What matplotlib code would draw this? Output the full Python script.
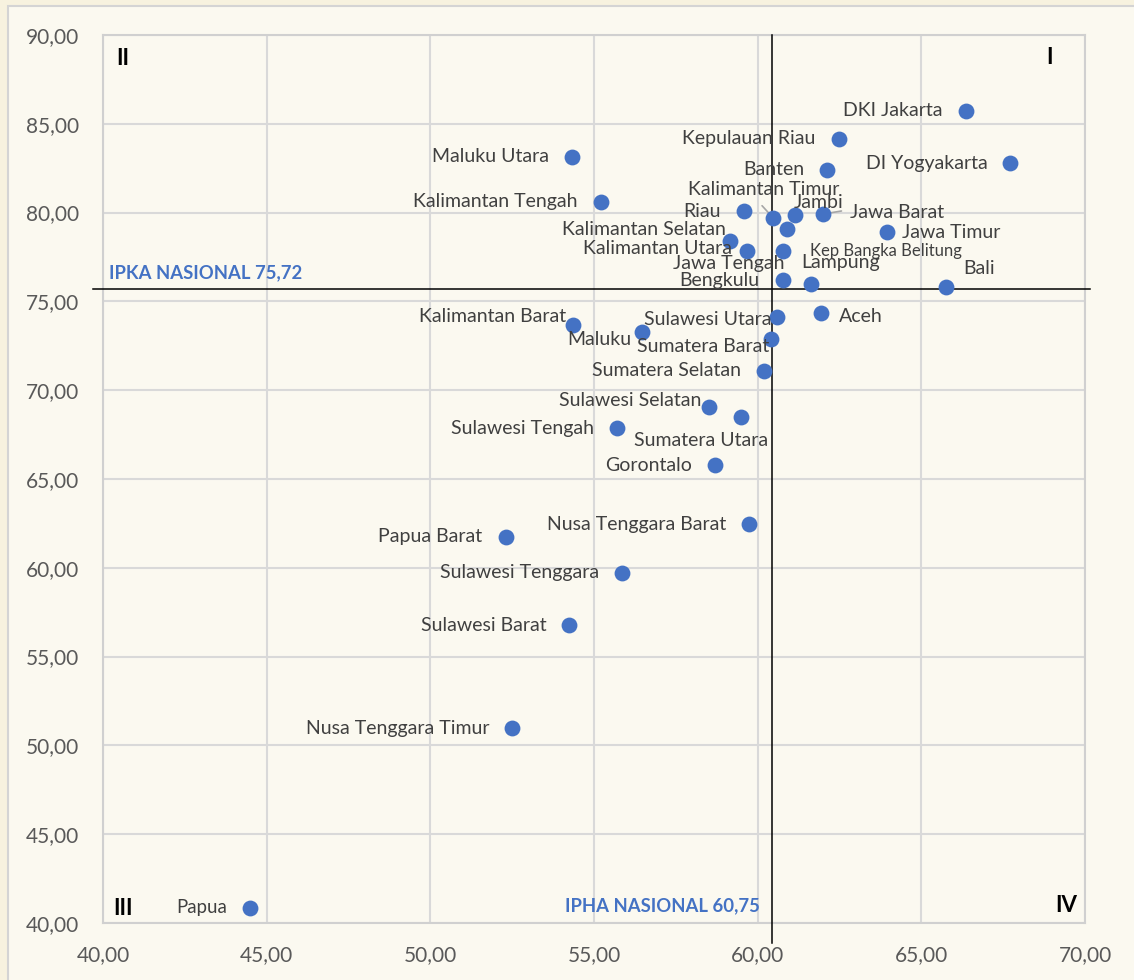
import matplotlib.pyplot as plt
import matplotlib.patches as patches
from matplotlib.ticker import FuncFormatter

plt.rcParams['font.family'] = ['Lato', 'DejaVu Sans']

# data (IPHA on x, IPKA on y)
provinces = ['DKI Jakarta', 'Kepulauan Riau', 'Banten', 'DI Yogyakarta', 'Kalimantan Timur',
             'Jambi', 'Jawa Barat', 'Riau', 'Jawa Tengah', 'Kalimantan Selatan',
             'Kalimantan Utara', 'Kep Bangka Belitung', 'Jawa Timur', 'Bengkulu', 'Lampung',
             'Bali', 'Maluku Utara', 'Kalimantan Tengah', 'Kalimantan Barat', 'Maluku',
             'Sulawesi Utara', 'Aceh', 'Sumatera Barat', 'Sumatera Selatan', 'Sulawesi Selatan',
             'Sumatera Utara', 'Sulawesi Tengah', 'Gorontalo', 'Nusa Tenggara Barat',
             'Papua Barat', 'Sulawesi Tenggara', 'Sulawesi Barat', 'Nusa Tenggara Timur', 'Papua']
ipha = [66.36, 62.48, 62.12, 67.72, 60.47,
        61.13, 62.01, 59.59, 60.89, 59.16,
        59.67, 60.77, 63.95, 60.77, 61.64,
        65.76, 54.34, 55.21, 54.36, 56.48,
        60.59, 61.93, 60.41, 60.19, 58.52,
        59.50, 55.69, 58.69, 59.74,
        52.30, 55.85, 54.25, 52.51, 44.50]
ipka = [85.74, 84.16, 82.40, 82.78, 79.71,
        79.85, 79.92, 80.07, 79.06, 78.42,
        77.86, 77.86, 78.91, 76.20, 75.96,
        75.79, 83.15, 80.61, 73.65, 73.26,
        74.10, 74.36, 72.87, 71.10, 69.07,
        68.49, 67.85, 65.77, 62.45,
        61.75, 59.72, 56.76, 50.96, 40.85]

ipka_nasional = 75.72
ipha_nasional = 60.75
ipha_line_x = 60.45  # where the vertical line is drawn in the original

# label placement (pixels): default is left of the dot
label_pos = {
    'Kalimantan Timur': (-9, 28, 'center'),
    'Jambi': (24, 13, 'center'),
    'Jawa Barat': (27, 2, 'left'),
    'Jawa Timur': (15, -1, 'left'),
    'Kalimantan Selatan': (-4, 11, 'right'),
    'Kalimantan Utara': (-15, 2, 'right'),
    'Kep Bangka Belitung': (27, 0, 'left'),
    'Jawa Tengah': (-2, -34, 'right'),
    'Lampung': (29, 22, 'center'),
    'Bali': (33, 19, 'center'),
    'Kalimantan Barat': (-7, 9, 'right'),
    'Maluku': (-11, -7, 'right'),
    'Sulawesi Utara': (-5, -2, 'right'),
    'Aceh': (18, -4, 'left'),
    'Sumatera Barat': (-2, -7, 'right'),
    'Sulawesi Selatan': (-8, 6, 'right'),
    'Sumatera Utara': (-40, -24, 'center'),
}
label_size = {'Kep Bangka Belitung': 12, 'Papua': 13.4}
leaders = {'Kalimantan Timur': (-11, 12), 'Jawa Barat': (18, 3)}

blue = '#4472C4'
fig = plt.figure(figsize=(11.34, 9.8), dpi=100, facecolor='#f7f2df')
ax = fig.add_axes([0.0908, 0.0582, 0.866, 0.9061])
ax.set_facecolor('#fbf9f0')

# outer chart frame
fig.patches.append(patches.Rectangle((8 / 1134, -0.05), 1.1, 1 - 6 / 980 + 0.05,
                                     transform=fig.transFigure, fill=True,
                                     facecolor='#fbf9f0', edgecolor='#d4d4d4',
                                     linewidth=1.5, zorder=-1))

ax.set_xlim(40, 70)
ax.set_ylim(40, 90)
ax.set_xticks(range(40, 71, 5))
ax.set_yticks(range(40, 91, 5))
fmt = FuncFormatter(lambda v, p: f'{v:.2f}'.replace('.', ','))
ax.xaxis.set_major_formatter(fmt)
ax.yaxis.set_major_formatter(fmt)
ax.tick_params(length=0, labelsize=15, labelcolor='#595959')
ax.tick_params(axis='y', pad=17)
ax.tick_params(axis='x', pad=16)
ax.grid(True, color='#d9d9d9', linewidth=1.5)
ax.set_axisbelow(True)
for s in ax.spines.values():
    s.set_color('#d0d0d0')
    s.set_linewidth(1.5)

ax.scatter(ipha, ipka, s=130, color=blue, zorder=4, linewidths=0)

for name, x, y in zip(provinces, ipha, ipka):
    dx, dy, ha = label_pos.get(name, (-23, 0, 'right'))
    ax.annotate(name, (x, y), xytext=(dx, dy), textcoords='offset pixels',
                ha=ha, va='center', fontsize=label_size.get(name, 14),
                color='#404040', zorder=5)
    if name in leaders:
        lx, ly = leaders[name]
        ax.annotate('', (x, y), xytext=(lx, ly), textcoords='offset pixels',
                    arrowprops=dict(arrowstyle='-', color='#a6a6a6', lw=1.2,
                                    shrinkA=0, shrinkB=0), zorder=3)

# national reference lines
ax.plot([39.7, 70.15], [ipka_nasional, ipka_nasional], color='black', lw=1.1,
        clip_on=False, zorder=3)
ax.plot([ipha_line_x, ipha_line_x], [38.85, 90], color='black', lw=1.1,
        clip_on=False, zorder=3)

ax.text(40.18, 76.6, f'IPKA NASIONAL {ipka_nasional:.2f}'.replace('.', ','),
        color=blue, fontsize=13.3, fontweight='bold', va='center', ha='left')
ax.text(60.07, 40.96, f'IPHA NASIONAL {ipha_nasional:.2f}'.replace('.', ','),
        color=blue, fontsize=13.3, fontweight='bold', va='center', ha='right')

for q, qx, qy in [('II', 40.61, 88.7), ('I', 68.93, 88.75), ('III', 40.61, 40.79), ('IV', 69.42, 40.96)]:
    ax.text(qx, qy, q, fontsize=16, fontweight='bold', color='black', ha='center', va='center')

fig.savefig('out.png', dpi=100, facecolor=fig.get_facecolor())
